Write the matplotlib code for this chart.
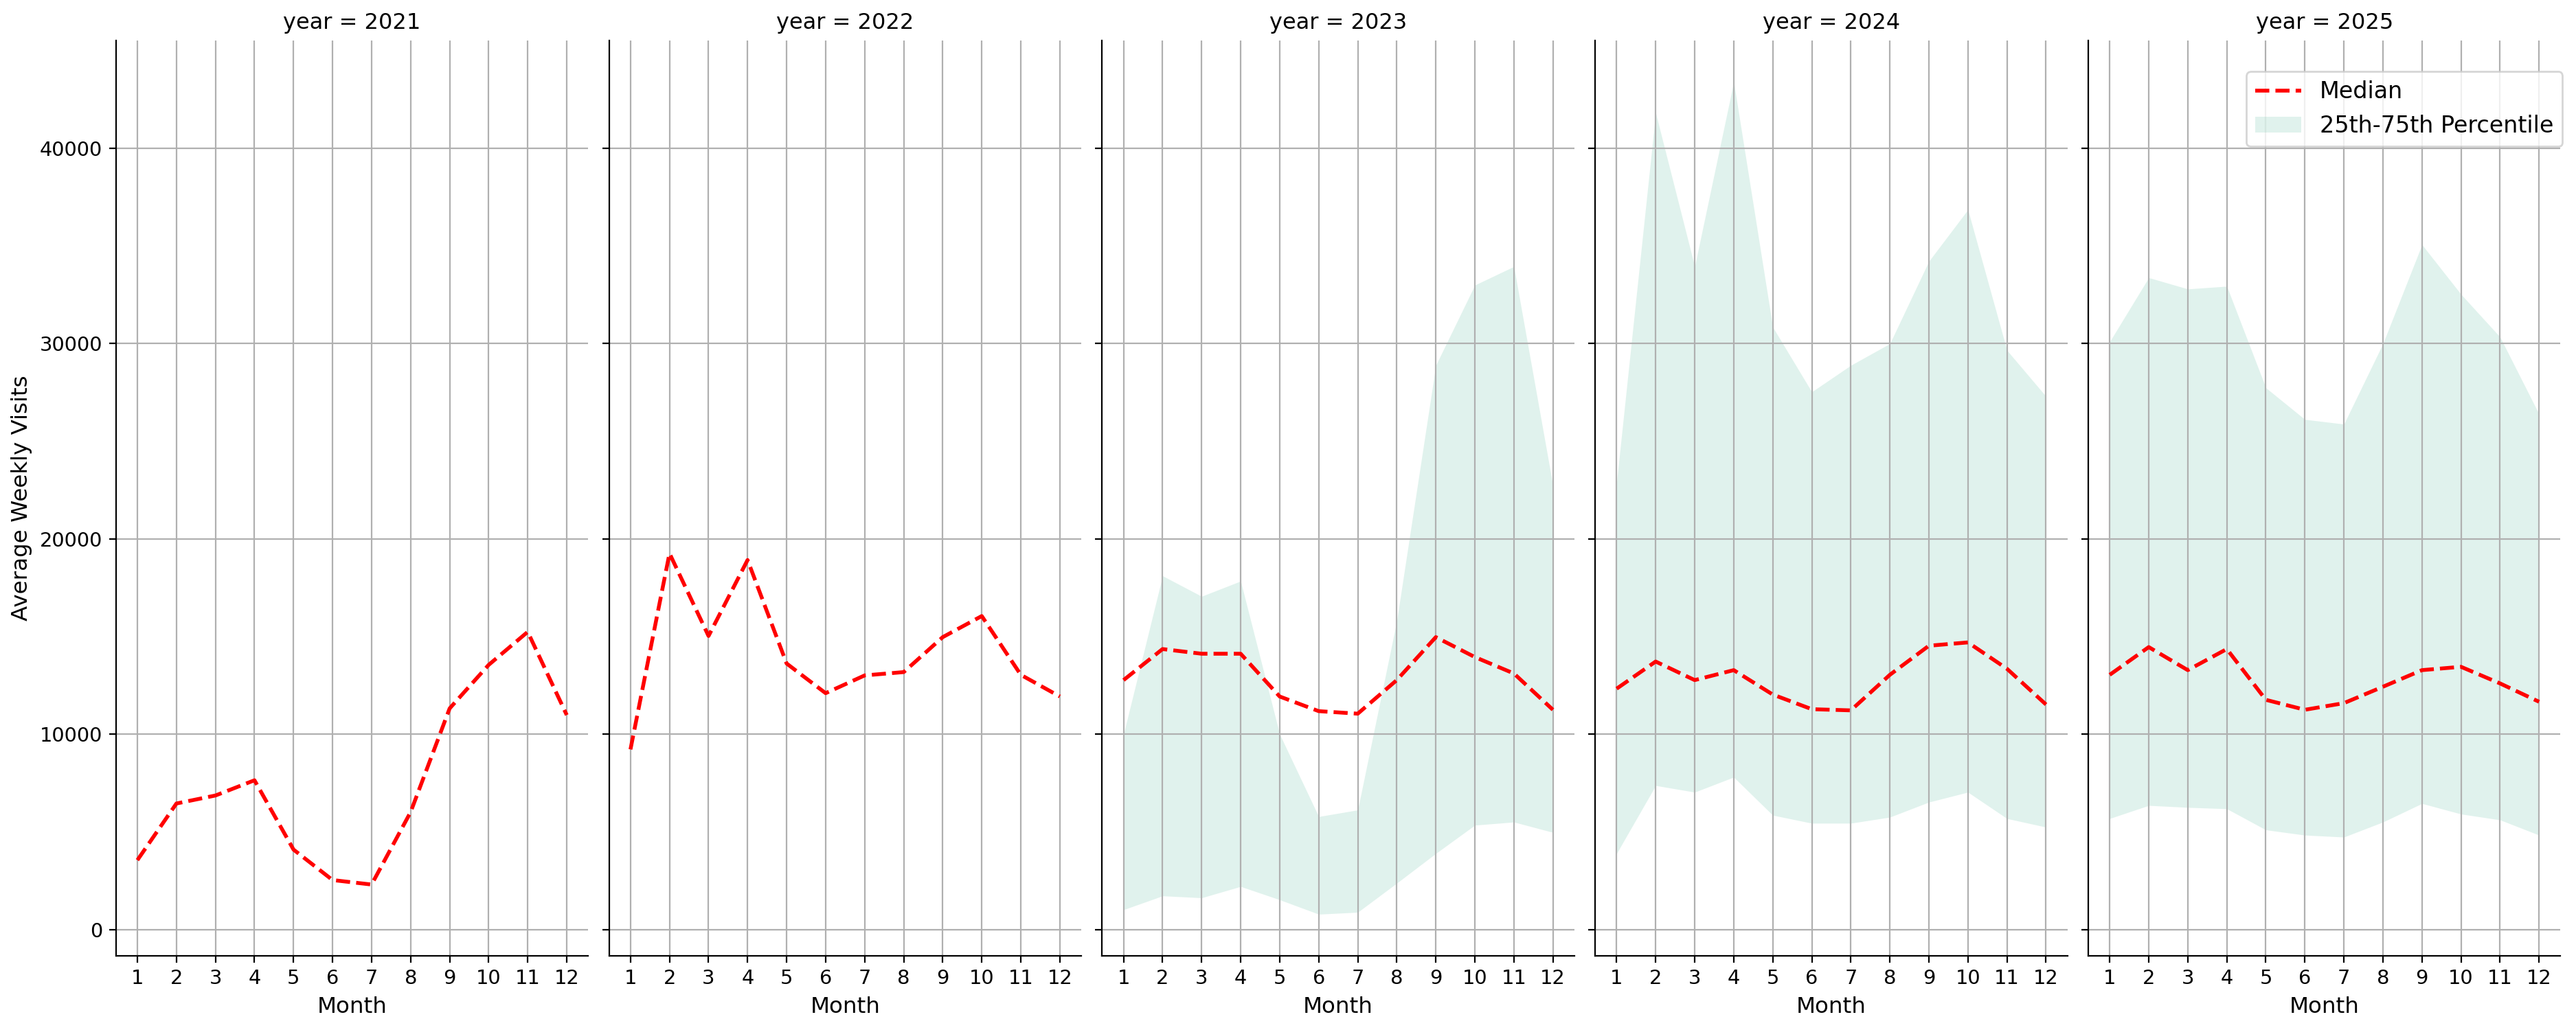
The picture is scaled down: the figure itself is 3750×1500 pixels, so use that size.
import matplotlib
matplotlib.use("Agg")
import matplotlib.pyplot as plt

years = [2021, 2022, 2023, 2024, 2025]
months = list(range(1, 13))

# median of average weekly visits per month
median_2021 = [3550, 6450, 6860, 7640, 4090, 2530, 2300, 6010, 11320, 13550, 15240, 10980]
median_2022 = [9220, 19260, 15030, 18920, 13620, 12100, 13010, 13180, 14970, 16050, 13040, 11930]
median_2023 = [12770, 14360, 14120, 14120, 11930, 11180, 11050, 12770, 14970, 13950, 13110, 11250]
median_2024 = [12330, 13720, 12770, 13280, 12030, 11280, 11220, 13040, 14530, 14700, 13350, 11520]
median_2025 = [13040, 14460, 13280, 14360, 11760, 11250, 11590, 12430, 13280, 13450, 12600, 11660]

# 25th / 75th percentile (no spread for 2021 and 2022)
p25_2023 = [1010, 1720, 1620, 2200, 1520, 780, 880, 2370, 3890, 5340, 5500, 4970]
p75_2023 = [10000, 18110, 17060, 17840, 10000, 5780, 6120, 15810, 28890, 33000, 33950, 22740]
p25_2024 = [3890, 7370, 7030, 7800, 5850, 5440, 5440, 5750, 6520, 7030, 5680, 5240]
p75_2024 = [22900, 41820, 33950, 43410, 30850, 27530, 28890, 30000, 34220, 36860, 29660, 27300]
p25_2025 = [5680, 6350, 6250, 6180, 5100, 4830, 4730, 5500, 6450, 5910, 5610, 4830]
p75_2025 = [30100, 33380, 32800, 32940, 27740, 26120, 25880, 30000, 35070, 32530, 30340, 26390]

medians = [median_2021, median_2022, median_2023, median_2024, median_2025]
p25s = [None, None, p25_2023, p25_2024, p25_2025]
p75s = [None, None, p75_2023, p75_2024, p75_2025]

fig, axes = plt.subplots(1, 5, figsize=(18.75, 7.5), sharey=True)
fig.subplots_adjust(left=0.045, right=0.994, top=0.961, bottom=0.072, wspace=0.044)

for ax, year, med, lo, hi in zip(axes, years, medians, p25s, p75s):
    ax.plot(months, med, color="red", linestyle="--", linewidth=2, label="Median")
    if lo is not None:
        ax.fill_between(months, lo, hi, color="#66c2a5", alpha=0.2,
                        linewidth=0, label="25th-75th Percentile")
    ax.set_title(f"year = {year}", fontsize=11.5)
    ax.set_xlabel("Month", fontsize=11.7)
    ax.set_xticks(months)
    ax.tick_params(labelsize=10.4)
    ax.grid(True)
    ax.spines["top"].set_visible(False)
    ax.spines["right"].set_visible(False)

axes[0].set_ylabel("Average Weekly Visits", fontsize=11.7)
axes[-1].legend(loc="upper right", fontsize=12, borderaxespad=0,
                bbox_to_anchor=(1.004, 0.966))

fig.savefig("out.png", dpi=200)
